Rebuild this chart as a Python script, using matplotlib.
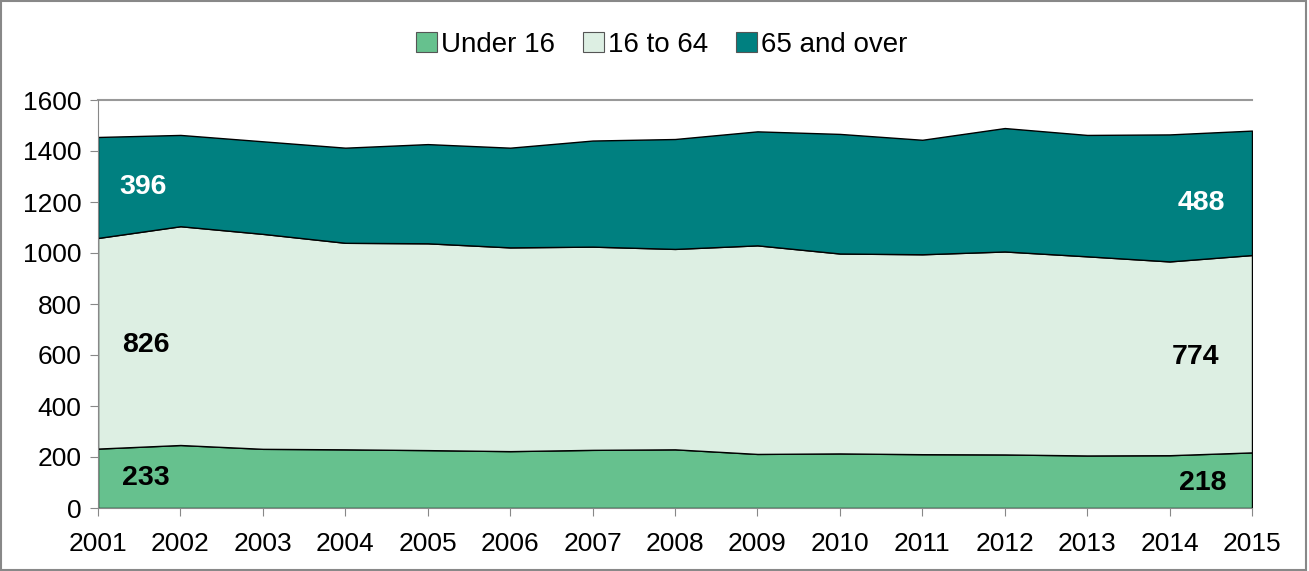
import numpy as np
from matplotlib import pyplot as plt
from matplotlib.patches import Patch

plt.rcParams['font.family'] = ['Liberation Sans', 'DejaVu Sans']

years = list(range(2001, 2016))
under16 = [233, 247, 232, 230, 227, 223, 228, 230, 212, 214, 211, 210, 206, 207, 218]
age16to64 = [826, 858, 843, 810, 811, 799, 797, 786, 818, 784, 784, 796, 781, 760, 774]
over65 = [396, 358, 363, 373, 389, 391, 416, 431, 447, 469, 449, 484, 476, 498, 488]

names = ['Under 16', '16 to 64', '65 and over']
colours = ['#66c18e', '#ddefe3', '#008080']

fig = plt.figure(figsize=(13.09, 5.71), dpi=100)
ax = fig.add_axes([98 / 1309, 1 - 508 / 571, (1252 - 98) / 1309, 408 / 571])

ax.stackplot(years, under16, age16to64, over65, colors=colours,
             edgecolor='black', linewidth=1.0)

ax.set_xlim(2001, 2015)
ax.set_ylim(0, 1600)
ax.set_xticks(years)
ax.set_yticks(range(0, 1601, 200))
ax.tick_params(axis='both', labelsize=19, length=6, color='#888888', direction='out')
ax.tick_params(axis='x', pad=11)
ax.tick_params(axis='y', pad=6)

for s in ['top', 'right']:
    ax.spines[s].set_visible(False)
ax.spines['left'].set_color('#888888')
ax.spines['bottom'].set_color('#888888')
ax.axhline(1600, color='#999999', linewidth=1.5, clip_on=False)

# end labels
lab = dict(fontsize=20.5, fontweight='bold', ha='center', va='center')
ax.text(2001.55, 1260, str(over65[0]), color='white', **lab)
ax.text(2001.58, 640, str(age16to64[0]), color='black', **lab)
ax.text(2001.58, 118, str(under16[0]), color='black', **lab)
ax.text(2014.38, 1196, str(over65[-1]), color='white', **lab)
ax.text(2014.32, 592, str(age16to64[-1]), color='black', **lab)
ax.text(2014.4, 98, str(under16[-1]), color='black', **lab)

handles = [Patch(facecolor=c, edgecolor='#555555', linewidth=0.8) for c in colours]
fig.legend(handles, names, loc='center', bbox_to_anchor=(662 / 1309, 1 - 45 / 571),
           ncol=3, frameon=False, fontsize=20, handlelength=0.75, handleheight=0.75,
           handletextpad=0.15, columnspacing=1.0)

fig.patches.append(plt.Rectangle((0.001, 0.002), 0.997, 0.996, transform=fig.transFigure,
                                 fill=False, edgecolor='#888888', linewidth=1.5))

fig.savefig('out.png', dpi=100)
